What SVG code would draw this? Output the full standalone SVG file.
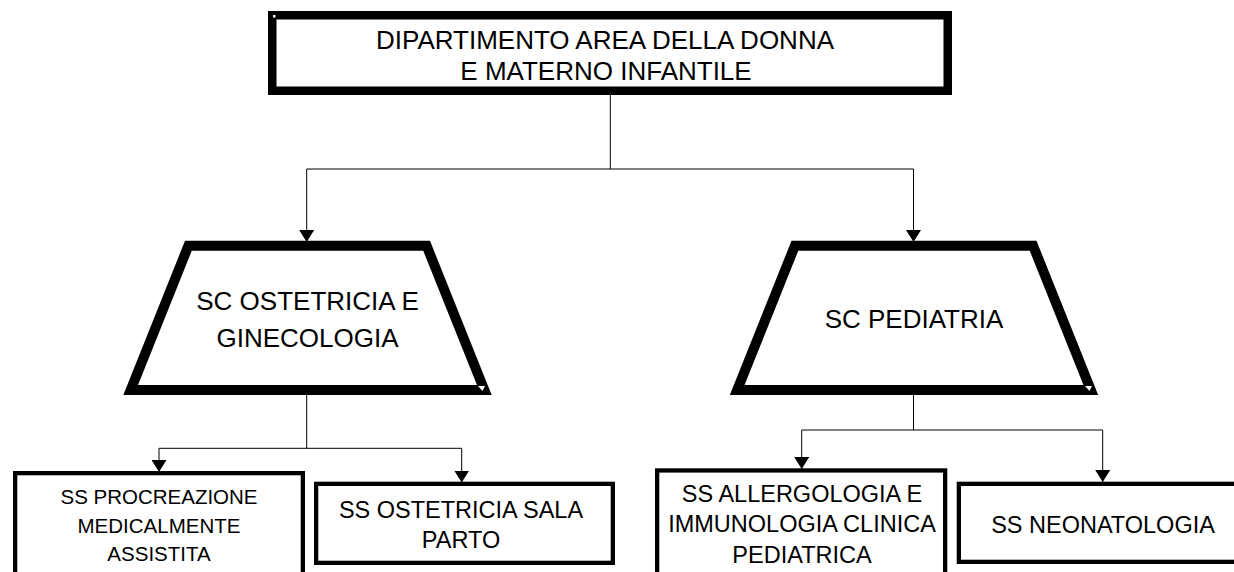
<svg xmlns="http://www.w3.org/2000/svg" width="1234" height="572" viewBox="0 0 1234 572">
<style>
  .lbl { font-family: "Liberation Sans", Arial, sans-serif; fill: #000; text-anchor: middle; }
  .big { font-size: 26px; }
  .mid { font-size: 23.5px; }
  .sml { font-size: 20.5px; }
  .thick { fill: #fff; stroke: #000; stroke-width: 8.5; }
  .trap { fill: #fff; stroke: #000; stroke-width: 10; stroke-linejoin: miter; }
  .box { fill: #fff; stroke: #000; stroke-width: 4.3; }
  .conn { fill: none; stroke: #000; stroke-width: 1; }
  .mark { fill: #fff; stroke: none; }
</style>
<defs>
  <marker id="arrow" viewBox="0 0 12 15" refX="12" refY="7.5" markerWidth="12" markerHeight="15" markerUnits="userSpaceOnUse" orient="auto">
    <path d="M0,0 L12,7.5 L0,15 Z" fill="#000"/>
  </marker>
</defs>
<rect width="1234" height="572" fill="#fff"/>

<g id="dipartimento">
  <rect class="thick" x="272.25" y="15.25" width="675.5" height="75.5"/>
  <rect class="mark" x="273" y="15" width="2.5" height="2.5"/>
  <text class="lbl big" x="605" y="49">DIPARTIMENTO AREA DELLA DONNA</text>
  <text class="lbl big" x="606" y="80">E MATERNO INFANTILE</text>
</g>

<g id="sc-ostetricia">
  <polygon class="trap" points="188.4,245.7 426.6,245.7 484.3,390 130.7,390"/>
  <polygon class="mark" points="478,386 485,386 482.5,391"/>
  <text class="lbl big" x="307.5" y="310">SC OSTETRICIA E</text>
  <text class="lbl big" x="307.5" y="347">GINECOLOGIA</text>
</g>

<g id="sc-pediatria">
  <polygon class="trap" points="794.9,245.7 1033.1,245.7 1090.8,390 737.2,390"/>
  <polygon class="mark" points="1085,386 1092,386 1089.5,391"/>
  <text class="lbl big" x="914" y="328">SC PEDIATRIA</text>
</g>

<g id="ss-procreazione">
  <rect class="box" x="15.15" y="473.15" width="287.7" height="120"/>
  <text class="lbl sml" x="159" y="504">SS PROCREAZIONE</text>
  <text class="lbl sml" x="159" y="532.7">MEDICALMENTE</text>
  <text class="lbl sml" x="159" y="560.7">ASSISTITA</text>
</g>

<g id="ss-ostetricia-sala-parto">
  <rect class="box" x="316.15" y="483.85" width="296.7" height="79"/>
  <text class="lbl mid" x="461" y="517.7">SS OSTETRICIA SALA</text>
  <text class="lbl mid" x="461" y="548.3">PARTO</text>
</g>

<g id="ss-allergologia">
  <rect class="box" x="657.15" y="470.45" width="288" height="120"/>
  <text class="lbl mid" x="802" y="501.7">SS ALLERGOLOGIA E</text>
  <text class="lbl mid" x="802" y="532.3">IMMUNOLOGIA CLINICA</text>
  <text class="lbl mid" x="802" y="563.3">PEDIATRICA</text>
</g>

<g id="ss-neonatologia">
  <rect class="box" x="958.85" y="483.85" width="290" height="78"/>
  <text class="lbl mid" x="1103" y="532.7">SS NEONATOLOGIA</text>
</g>

<g id="connectors">
  <path class="conn" d="M610.3,95 V169"/>
  <path class="conn" d="M306.7,169 H913.5"/>
  <path class="conn" d="M306.7,169 V242" marker-end="url(#arrow)"/>
  <path class="conn" d="M913.5,169 V242" marker-end="url(#arrow)"/>

  <path class="conn" d="M306.7,395 V448.3"/>
  <path class="conn" d="M159,448.3 H461.7"/>
  <path class="conn" d="M159,448.3 V472" marker-end="url(#arrow)"/>
  <path class="conn" d="M461.7,448.3 V482.5" marker-end="url(#arrow)"/>

  <path class="conn" d="M913.5,395 V430"/>
  <path class="conn" d="M801.7,430 H1102.7"/>
  <path class="conn" d="M801.7,430 V469" marker-end="url(#arrow)"/>
  <path class="conn" d="M1102.7,430 V482" marker-end="url(#arrow)"/>
</g>
</svg>
